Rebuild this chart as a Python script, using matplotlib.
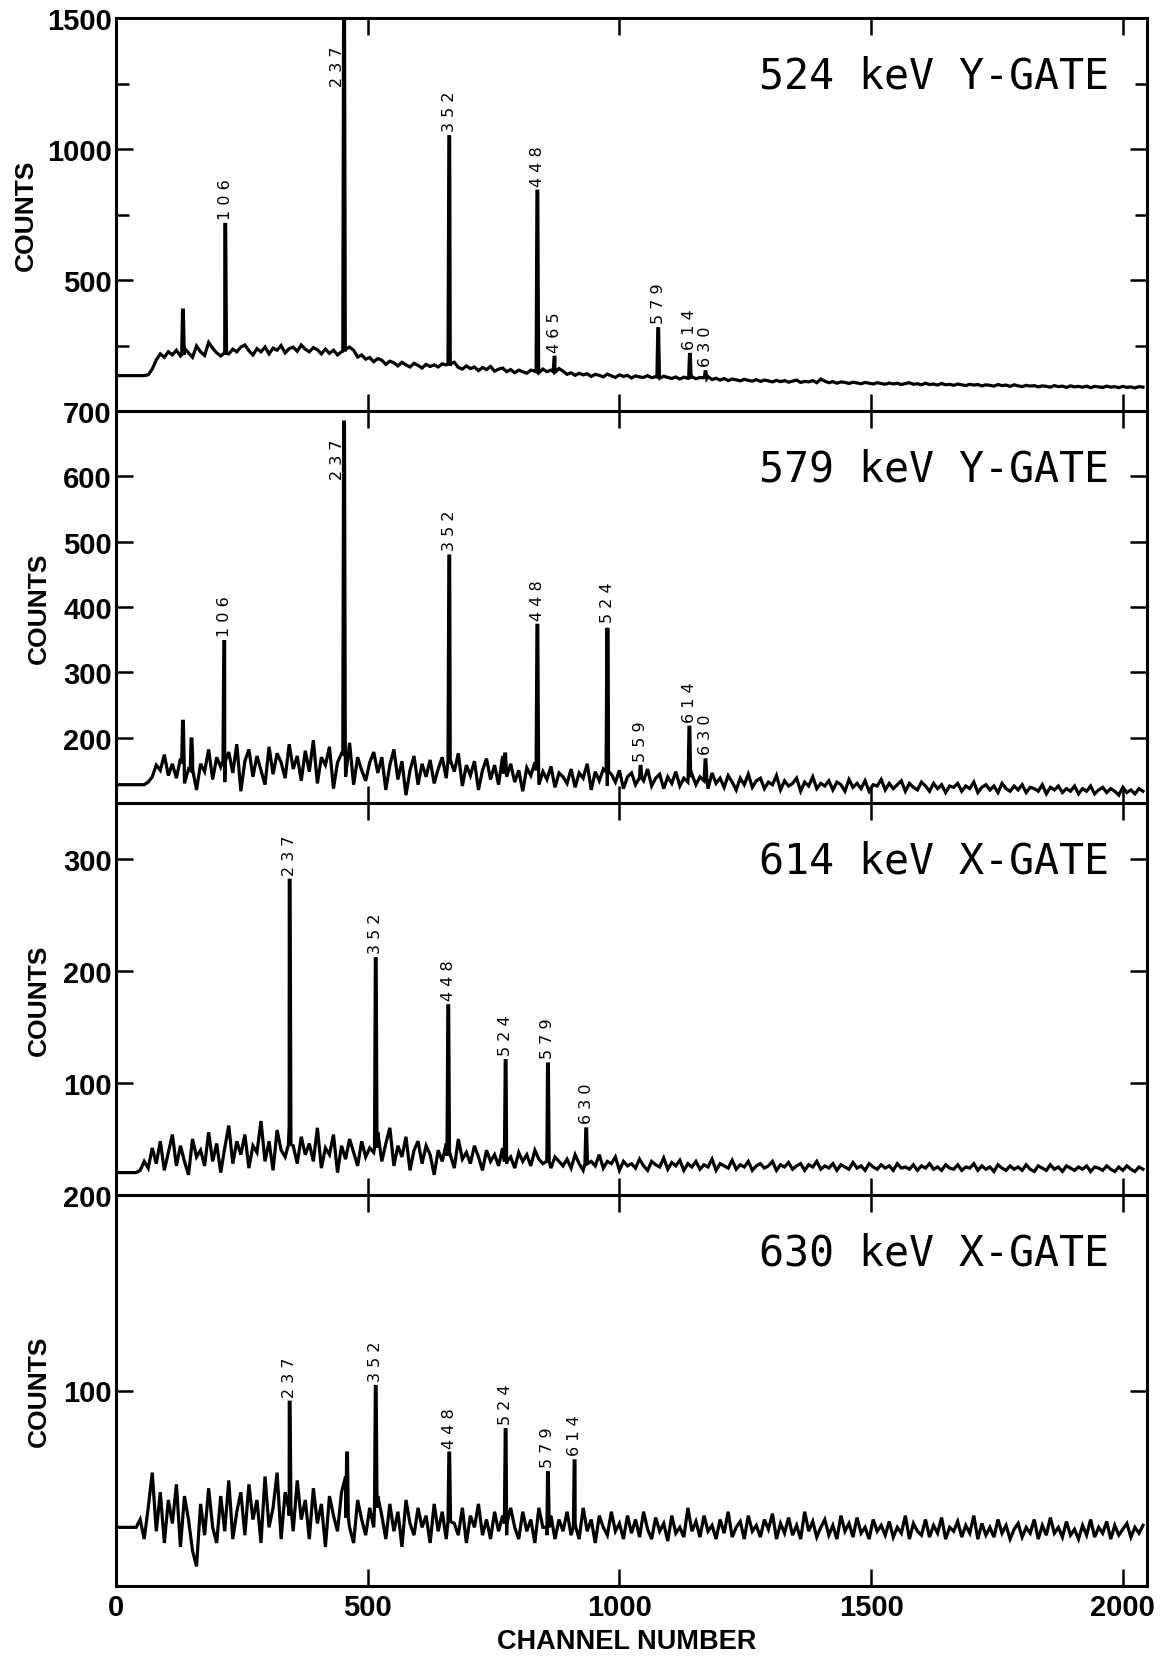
import numpy as np
import matplotlib.pyplot as plt
from matplotlib.ticker import FixedLocator, NullFormatter

# ---------------------------------
# Data
# ---------------------------------
# background sampled every 8th channel of the 2048-channel spectra
channels = np.arange(0, 2048, 8)

bg_524 = [135, 135, 135, 135, 135, 135, 135, 135, 138, 160, 195, 218, 205, 226, 214, 232,
          210, 240, 222, 205, 248, 226, 212, 262, 240, 222, 210, 228, 218, 236, 226, 244,
          252, 230, 214, 238, 226, 244, 218, 240, 232, 250, 222, 238, 244, 228, 252, 236,
          226, 242, 234, 218, 236, 220, 232, 214, 226, 236, 244, 232, 206, 214, 198, 204,
          188, 200, 194, 178, 190, 184, 172, 186, 176, 168, 182, 174, 164, 178, 170, 176,
          168, 180, 176, 172, 186, 166, 160, 172, 162, 168, 154, 166, 158, 170, 152, 160,
          164, 150, 158, 146, 156, 150, 144, 156, 152, 146, 160, 150, 156, 148, 162, 152,
          140, 146, 136, 144, 138, 142, 132, 140, 136, 130, 141, 134, 128, 138, 132, 136,
          126, 134, 130, 128, 135, 127, 131, 125, 133, 128, 124, 130, 122, 129, 125, 131,
          123, 128, 126, 131, 120, 125, 118, 124, 116, 122, 119, 115, 121, 117, 114, 120,
          113, 118, 115, 111, 117, 112, 116, 110, 114, 118, 109, 113, 111, 116, 108, 122,
          114, 108, 112, 106, 111, 109, 105, 110, 107, 104, 109, 106, 103, 108, 105, 102,
          107, 103, 106, 101, 105, 108, 102, 104, 100, 106, 101, 103, 99, 105, 100, 102,
          98, 103, 100, 97, 102, 99, 101, 96, 100, 98, 95, 101, 97, 99, 94, 100,
          96, 93, 98, 95, 97, 92, 96, 94, 91, 97, 93, 95, 90, 96, 92, 94,
          91, 95, 89, 94, 92, 90, 95, 91, 93, 89, 94, 90, 92, 88, 93, 91]

bg_579 = [128, 128, 128, 128, 128, 128, 128, 128, 132, 140, 158, 150, 174, 142, 160, 138,
          168, 130, 152, 176, 120, 160, 148, 182, 136, 170, 155, 132, 178, 146, 190, 118,
          164, 182, 140, 172, 150, 128, 186, 144, 176, 162, 138, 190, 152, 172, 134, 180,
          148, 196, 130, 170, 158, 186, 122, 162, 176, 140, 192, 128, 170, 150, 134, 162,
          178, 146, 170, 120, 158, 182, 136, 164, 112, 150, 172, 128, 160, 140, 166, 130,
          152, 170, 138, 160, 148, 176, 126, 158, 142, 164, 120, 150, 168, 136, 158, 128,
          172, 140, 160, 132, 150, 118, 154, 142, 162, 128, 148, 136, 156, 124, 146, 140,
          130, 152, 124, 146, 138, 160, 120, 148, 134, 152, 126, 144, 132, 150, 122, 140,
          146, 128, 140, 134, 152, 126, 138, 144, 122, 140, 130, 148, 126, 138, 132, 144,
          128, 140, 134, 122, 146, 130, 138, 124, 142, 132, 120, 138, 128, 144, 124, 134,
          138, 122, 132, 128, 142, 120, 134, 126, 130, 138, 118, 132, 126, 140, 122, 130,
          126, 134, 120, 132, 128, 118, 136, 124, 130, 122, 134, 118, 128, 126, 136, 120,
          130, 122, 128, 134, 118, 130, 124, 120, 132, 126, 118, 130, 122, 128, 116, 126,
          124, 130, 118, 126, 122, 132, 116, 124, 128, 120, 126, 116, 130, 122, 118, 126,
          120, 128, 116, 124, 122, 118, 128, 114, 124, 120, 126, 116, 122, 118, 126, 114,
          122, 118, 126, 114, 120, 124, 116, 122, 118, 112, 124, 116, 120, 114, 122, 118]

bg_614 = [20, 20, 20, 20, 20, 20, 22, 30, 24, 42, 28, 48, 22, 38, 54, 26,
          44, 30, 18, 50, 34, 40, 26, 56, 30, 46, 20, 42, 62, 28, 48, 36,
          54, 24, 44, 38, 66, 30, 48, 22, 58, 40, 34, 62, 44, 28, 52, 36,
          46, 30, 60, 24, 42, 36, 54, 20, 44, 32, 50, 38, 26, 48, 34, 42,
          38, 56, 30, 46, 60, 26, 44, 34, 52, 22, 40, 48, 28, 44, 36, 18,
          40, 30, 46, 36, 24, 50, 32, 38, 28, 44, 34, 22, 40, 30, 36, 26,
          42, 28, 34, 24, 38, 30, 36, 26, 40, 32, 28, 38, 24, 34, 30, 26,
          32, 24, 36, 28, 22, 34, 30, 26, 36, 24, 30, 28, 34, 22, 30, 26,
          28, 24, 32, 26, 22, 30, 27, 25, 33, 23, 29, 26, 31, 22, 28, 25,
          30, 23, 27, 25, 32, 22, 28, 26, 24, 31, 23, 27, 25, 30, 22, 26,
          28, 24, 26, 30, 22, 27, 25, 29, 23, 26, 28, 22, 27, 25, 30, 23,
          26, 24, 28, 22, 27, 25, 23, 29, 24, 26, 22, 28, 25, 23, 27, 24,
          26, 22, 28, 24, 25, 23, 27, 22, 26, 24, 28, 23, 25, 22, 27, 24,
          23, 27, 22, 25, 24, 28, 22, 26, 23, 25, 21, 27, 24, 22, 26, 23,
          25, 22, 27, 23, 21, 26, 24, 22, 27, 23, 25, 21, 26, 24, 22, 25,
          23, 26, 21, 25, 24, 22, 26, 23, 21, 25, 22, 26, 23, 21, 25, 23]

bg_630 = [30, 30, 30, 30, 30, 30, 34, 24, 40, 58, 28, 48, 22, 44, 32, 52,
          20, 46, 34, 18, 10, 42, 26, 50, 30, 22, 46, 28, 54, 24, 38, 48,
          26, 52, 34, 44, 22, 56, 30, 40, 58, 24, 48, 36, 28, 54, 34, 44,
          24, 50, 32, 42, 20, 46, 36, 28, 48, 56, 30, 22, 44, 34, 26, 40,
          30, 46, 36, 24, 42, 28, 38, 20, 44, 32, 26, 40, 30, 36, 22, 42,
          28, 38, 24, 44, 32, 26, 40, 22, 36, 30, 42, 26, 34, 24, 38, 28,
          36, 26, 40, 30, 24, 38, 28, 34, 22, 40, 30, 26, 36, 24, 34, 28,
          38, 26, 32, 24, 40, 28, 34, 22, 36, 30, 26, 38, 28, 32, 24, 36,
          27, 34, 25, 38, 29, 24, 35, 28, 32, 23, 36, 27, 30, 25, 40, 28,
          33, 25, 36, 28, 31, 24, 34, 27, 38, 25, 30, 33, 24, 36, 28, 31,
          25, 34, 29, 37, 24, 32, 27, 35, 26, 31, 24, 38, 28, 33, 25, 30,
          34, 26, 31, 24, 36, 28, 32, 25, 35, 27, 30, 24, 34, 28, 31, 26,
          33, 25, 30, 27, 36, 24, 32, 28, 26, 34, 25, 31, 27, 35, 24, 30,
          28, 33, 25, 31, 27, 36, 24, 32, 26, 30, 25, 34, 27, 31, 24, 29,
          32, 25, 30, 27, 34, 24, 31, 26, 35, 27, 30, 25, 33, 26, 29, 24,
          31, 26, 34, 25, 30, 27, 33, 24, 31, 26, 29, 32, 25, 30, 27, 31]

# peaks: channel, peak top, count level at the foot of the peak, label (keV)
pk_524_ch = [133, 217, 453, 662, 837, 871, 1077, 1140, 1171]
pk_524_top = [385, 712, 1600, 1047, 839, 205, 314, 216, 150]
pk_524_base = [215, 220, 228, 180, 150, 150, 130, 125, 124]
pk_524_lab = ["", "106", "237", "352", "448", "465", "579", "614", "630"]

pk_579_ch = [133, 150, 215, 453, 662, 773, 837, 976, 1042, 1139, 1171]
pk_579_top = [225, 198, 347, 683, 478, 175, 372, 368, 156, 216, 166]
pk_579_base = [160, 150, 165, 175, 165, 145, 150, 148, 138, 140, 138]
pk_579_lab = ["", "", "106", "237", "352", "", "448", "524", "559", "614", "630"]

pk_614_ch = [345, 516, 660, 774, 858, 934]
pk_614_top = [281, 211, 169, 120, 117, 59]
pk_614_base = [45, 42, 35, 30, 30, 28]
pk_614_lab = ["237", "352", "448", "524", "579", "630"]

pk_630_ch = [345, 459, 516, 662, 774, 858, 911]
pk_630_top = [94, 68, 102, 68, 80, 58, 64]
pk_630_base = [40, 35, 40, 33, 32, 30, 30]
pk_630_lab = ["237", "", "352", "448", "524", "579", "614"]

gate_titles = ["524 keV Y-GATE", "579 keV Y-GATE", "614 keV X-GATE", "630 keV X-GATE"]
x_ticks = [0, 500, 1000, 1500, 2000]


def spectrum(bg, pk_ch, pk_top, pk_base):
    """Merge the sampled background and the narrow peaks into one trace."""
    x = list(channels)
    y = list(bg)
    for c, t, b in zip(pk_ch, pk_top, pk_base):
        x += [c - 2.5, c - 0.8, c + 0.8, c + 2.5]
        y += [b, t, t, b]
    order = np.argsort(x, kind="stable")
    return np.asarray(x)[order], np.asarray(y)[order]


panels = [
    dict(bg=bg_524, ch=pk_524_ch, top=pk_524_top, base=pk_524_base, lab=pk_524_lab,
         ylim=(0, 1500), major=[500, 1000, 1500], minor=[250, 750, 1250]),
    dict(bg=bg_579, ch=pk_579_ch, top=pk_579_top, base=pk_579_base, lab=pk_579_lab,
         ylim=(100, 700), major=[200, 300, 400, 500, 600, 700], minor=[]),
    dict(bg=bg_614, ch=pk_614_ch, top=pk_614_top, base=pk_614_base, lab=pk_614_lab,
         ylim=(0, 350), major=[100, 200, 300], minor=[]),
    dict(bg=bg_630, ch=pk_630_ch, top=pk_630_top, base=pk_630_base, lab=pk_630_lab,
         ylim=(0, 200), major=[100, 200], minor=[]),
]

# ---------------------------------
# Figure
# ---------------------------------
W, H = 1161, 1658
fig = plt.figure(figsize=(W / 100, H / 100), dpi=100)

ax_left, ax_right = 116 / W, 1147 / W
edges = [19, 412, 804, 1196, 1587]

narrow = ["Liberation Sans Narrow", "Liberation Sans", "DejaVu Sans"]
wide = ["Liberation Sans", "DejaVu Sans"]

for k, p in enumerate(panels):
    top_px, bot_px = edges[k], edges[k + 1]
    ax = fig.add_axes([ax_left, 1 - bot_px / H, ax_right - ax_left, (bot_px - top_px) / H])

    x, y = spectrum(p["bg"], p["ch"], p["top"], p["base"])
    ax.plot(x, y, color="black", lw=2.3, solid_joinstyle="miter")

    ax.set_xlim(0, 2048)
    ax.set_ylim(*p["ylim"])

    for s in ax.spines.values():
        s.set_linewidth(2.2)

    ax.xaxis.set_major_locator(FixedLocator(x_ticks))
    ax.yaxis.set_major_locator(FixedLocator(p["major"]))
    ax.yaxis.set_minor_locator(FixedLocator(p["minor"]))
    ax.yaxis.set_minor_formatter(NullFormatter())
    ax.tick_params(axis="both", which="major", direction="in", top=True, right=True,
                   length=12, width=1.8, pad=3)
    ax.tick_params(axis="y", which="minor", direction="in", right=True, length=9, width=1.8)
    ax.tick_params(axis="y", labelsize=21)
    ax.tick_params(axis="x", labelsize=21, pad=5)
    for t in ax.get_yticklabels():
        t.set_family(narrow)
        t.set_weight("bold")
    if k < 3:
        ax.set_xticklabels([])
    else:
        for t in ax.get_xticklabels():
            t.set_family(wide)
            t.set_weight("bold")

    ax.text(0.963, 0.853, gate_titles[k], transform=ax.transAxes, ha="right", va="center",
            fontsize=30, family="DejaVu Sans Mono")

    # peak energy labels
    ymax = p["ylim"][1]
    for c, t, lab in zip(p["ch"], p["top"], p["lab"]):
        if not lab:
            continue
        txt = " ".join(lab)
        if t > 0.9 * ymax:
            ax.annotate(txt, xy=(c, ymax), xytext=(-5, -20), textcoords="offset points",
                        rotation=90, ha="center", va="top", fontsize=11.5)
        else:
            ax.annotate(txt, xy=(c, t), xytext=(0, 4), textcoords="offset points",
                        rotation=90, ha="center", va="bottom", fontsize=11.5)

    label_x = 26 if k == 0 else 39
    fig.text(label_x / W, 1 - (top_px + bot_px) / 2 / H, "COUNTS", rotation=90,
             ha="center", va="center", fontsize=19, weight="bold", family=wide)

fig.text(627 / W, 1 - 1642 / H, "CHANNEL NUMBER", ha="center", va="center",
         fontsize=19.5, weight="bold", family=wide)

fig.savefig("out.png", dpi=100, facecolor="white")
